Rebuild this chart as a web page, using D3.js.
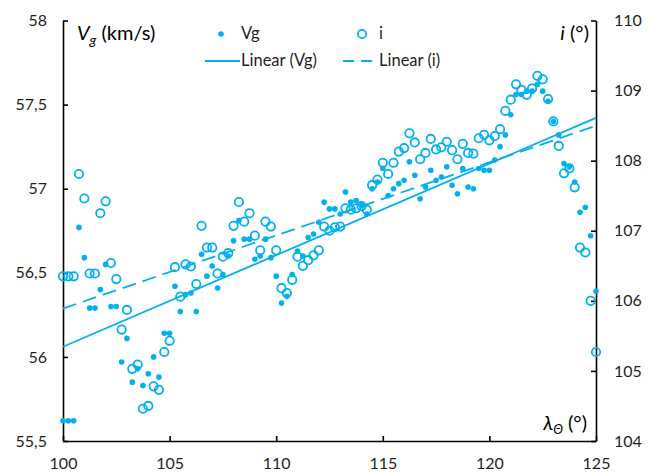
<!DOCTYPE html>
<html>
<head>
<meta charset="utf-8">
<script src="https://cdn.jsdelivr.net/npm/d3@7"></script>
<style>
  html, body { margin: 0; padding: 0; background: #fff; }
  svg { display: block; font-family: Lato, "Open Sans", sans-serif; }
</style>
</head>
<body>
<svg id="chart" width="650" height="474"></svg>
<script>
// Solar longitude (deg)
const lambda = [
  100, 100.25, 100.5, 100.75, 101, 101.25, 101.5, 101.75, 102, 102.25,
  102.5, 102.75, 103, 103.25, 103.5, 103.75, 104, 104.25, 104.5, 104.75,
  105, 105.25, 105.5, 105.75, 106, 106.25, 106.5, 106.75, 107, 107.25,
  107.5, 107.75, 108, 108.25, 108.5, 108.75, 109, 109.25, 109.5, 109.75,
  110, 110.25, 110.5, 110.75, 111, 111.25, 111.5, 111.75, 112, 112.25,
  112.5, 112.75, 113, 113.25, 113.5, 113.75, 114, 114.25, 114.5, 114.75,
  115, 115.25, 115.5, 115.75, 116, 116.25, 116.5, 116.75, 117, 117.25,
  117.5, 117.75, 118, 118.25, 118.5, 118.75, 119, 119.25, 119.5, 119.75,
  120, 120.25, 120.5, 120.75, 121, 121.25, 121.5, 121.75, 122, 122.25,
  122.5, 122.75, 123, 123.25, 123.5, 123.75, 124, 124.25, 124.5, 124.75,
  125
];

// Geocentric velocity Vg (km/s)
const vg = [
  55.62, 55.62, 55.62, 56.77, 56.59, 56.29, 56.29, 56.40, 56.55, 56.30,
  56.30, 55.97, 56.11, 55.85, 55.93, 55.83, 55.90, 56.00, 55.88, 56.14,
  56.14, 56.42, 56.27, 56.37, 56.38, 56.27, 56.61, 56.48, 56.54, 56.41,
  56.49, 56.60, 56.69, 56.81, 56.70, 56.70, 56.58, 56.60, 56.70, 56.59,
  56.48, 56.32, 56.36, 56.49, 56.63, 56.60, 56.71, 56.73, 56.80, 56.92,
  56.88, 56.88, 56.85, 56.98, 56.92, 56.93, 56.90, 56.85, 57.00, 57.04,
  57.12, 56.96, 57.00, 57.03, 57.05, 57.16, 57.08, 56.94, 57.01, 57.11,
  57.05, 57.07, 57.13, 57.02, 56.97, 57.12, 57.01, 57.00, 57.12, 57.11,
  57.11, 57.17, 57.25, 57.32, 57.44, 57.56, 57.56, 57.58, 57.58, 57.62,
  57.58, 57.52, 57.40, 57.32, 57.15, 57.13, 57.04, 56.86, 56.89, 56.72,
  56.39
];

// Inclination i (deg)
const incl = [
  106.35, 106.35, 106.35, 107.81, 107.46, 106.39, 106.39, 107.25, 107.42, 106.54,
  106.31, 105.59, 105.87, 105.03, 105.09, 104.46, 104.50, 104.78, 104.73, 105.27,
  105.43, 106.48, 106.06, 106.52, 106.49, 106.24, 107.07, 106.76, 106.76, 106.39,
  106.63, 106.68, 107.07, 107.41, 107.13, 107.25, 106.93, 106.72, 107.13, 107.06,
  106.72, 106.18, 106.11, 106.30, 106.63, 106.50, 106.58, 106.65, 106.72, 107.06,
  107.00, 107.05, 107.06, 107.32, 107.30, 107.32, 107.35, 107.30, 107.65, 107.73,
  107.97, 107.81, 107.97, 108.13, 108.18, 108.39, 108.26, 108.02, 108.11, 108.31,
  108.16, 108.19, 108.27, 108.15, 108.02, 108.24, 108.11, 108.10, 108.32, 108.37,
  108.29, 108.35, 108.45, 108.71, 108.87, 109.09, 109.01, 108.94, 109.03, 109.21,
  109.16, 108.88, 108.56, 108.21, 107.82, 107.89, 107.62, 106.76, 106.69, 106.00,
  105.27
];

const xTicks = [100, 105, 110, 115, 120, 125];
const vgTicks = [55.5, 56, 56.5, 57, 57.5, 58];
const iTicks = [104, 105, 106, 107, 108, 109, 110];

const blue = "#00B0F0";
const ink = "#000";
const labelInk = "#1f1f1f";

const svg = d3.select("#chart");
const plotLeft = 63, plotRight = 596, plotTop = 20.5, plotBottom = 441;

const x = d3.scaleLinear().domain([100, 125]).range([plotLeft, plotRight]);
const yV = d3.scaleLinear().domain([55.5, 58]).range([plotBottom, plotTop]);
const yI = d3.scaleLinear().domain([104, 110]).range([plotBottom, plotTop]);

const comma = d => String(d).replace(".", ",");

// Least-squares line
function fit(xs, ys) {
  const n = xs.length;
  const mx = d3.mean(xs), my = d3.mean(ys);
  let sxy = 0, sxx = 0;
  for (let k = 0; k < n; k++) {
    sxy += (xs[k] - mx) * (ys[k] - my);
    sxx += (xs[k] - mx) * (xs[k] - mx);
  }
  const b = sxy / sxx;
  return v => my + b * (v - mx);
}

// Axes
function styleAxis(g) {
  g.selectAll(".domain").attr("stroke", ink).attr("stroke-width", 1.6);
  g.selectAll(".tick line").attr("stroke", ink).attr("stroke-width", 1.6);
  g.selectAll(".tick text").attr("fill", labelInk).style("font-size", "16px")
    .style("font-family", "Lato, 'Open Sans', sans-serif");
}

svg.append("g")
  .attr("transform", `translate(${plotLeft},0)`)
  .call(d3.axisLeft(yV).tickValues(vgTicks).tickFormat(comma)
    .tickSizeInner(-5).tickSizeOuter(0).tickPadding(16))
  .call(styleAxis);

svg.append("g")
  .attr("transform", `translate(${plotRight},0)`)
  .call(d3.axisRight(yI).tickValues(iTicks).tickFormat(comma)
    .tickSizeInner(-5).tickSizeOuter(0).tickPadding(18))
  .call(styleAxis);

svg.append("g")
  .attr("transform", `translate(0,${plotBottom})`)
  .call(d3.axisBottom(x).tickValues(xTicks).tickFormat(comma)
    .tickSizeInner(-5).tickSizeOuter(0).tickPadding(17))
  .call(styleAxis);

// Markers
const pts = lambda.map((l, k) => ({ l, v: vg[k], i: incl[k] }));

svg.append("g").selectAll("circle")
  .data(pts).join("circle")
  .attr("cx", d => x(d.l)).attr("cy", d => yV(d.v))
  .attr("r", 2.8).attr("fill", blue);

svg.append("g").selectAll("circle")
  .data(pts).join("circle")
  .attr("cx", d => x(d.l)).attr("cy", d => yI(d.i))
  .attr("r", 4.2).attr("fill", "none")
  .attr("stroke", blue).attr("stroke-width", 1.8);

// Trend lines
const fV = fit(lambda, vg);
const fI = fit(lambda, incl);

svg.append("line")
  .attr("x1", x(100)).attr("y1", yV(fV(100)))
  .attr("x2", x(125)).attr("y2", yV(fV(125)))
  .attr("stroke", blue).attr("stroke-width", 1.8);

svg.append("line")
  .attr("x1", x(100)).attr("y1", yI(fI(100)))
  .attr("x2", x(125)).attr("y2", yI(fI(125)))
  .attr("stroke", blue).attr("stroke-width", 1.8)
  .attr("stroke-dasharray", "14,7");

// Axis titles
const t1 = svg.append("text").attr("x", 77).attr("y", 40)
  .attr("fill", ink).style("font-size", "20px");
t1.append("tspan").attr("font-style", "italic").text("V");
t1.append("tspan").attr("font-style", "italic").attr("dy", 5).style("font-size", "14px").text("g");
t1.append("tspan").attr("dy", -5).text(" (km/s)");

const t2 = svg.append("text").attr("x", 589).attr("y", 40)
  .attr("text-anchor", "end").attr("fill", ink).style("font-size", "20px");
t2.append("tspan").attr("font-style", "italic").text("i");
t2.append("tspan").text(" (°)");

const t3 = svg.append("text").attr("x", 587).attr("y", 430)
  .attr("text-anchor", "end").attr("fill", ink).style("font-size", "20px");
t3.append("tspan").attr("font-style", "italic").text("λ");
t3.append("tspan").attr("font-style", "italic").attr("dy", 4).style("font-size", "13px").text("Θ");
t3.append("tspan").attr("dy", -4).text(" (°)");

// Legend
const lg = svg.append("g").style("font-size", "16.5px").attr("fill", labelInk);
lg.append("circle").attr("cx", 221).attr("cy", 34).attr("r", 2.8).attr("fill", blue);
lg.append("text").attr("x", 241).attr("y", 39).text("Vg");
lg.append("circle").attr("cx", 362).attr("cy", 34).attr("r", 4.2)
  .attr("fill", "none").attr("stroke", blue).attr("stroke-width", 1.8);
lg.append("text").attr("x", 379).attr("y", 39).text("i");
lg.append("line").attr("x1", 205).attr("x2", 240).attr("y1", 61).attr("y2", 61)
  .attr("stroke", blue).attr("stroke-width", 1.8);
lg.append("text").attr("x", 241).attr("y", 66).text("Linear (Vg)");
lg.append("line").attr("x1", 343).attr("x2", 378).attr("y1", 61).attr("y2", 61)
  .attr("stroke", blue).attr("stroke-width", 1.8).attr("stroke-dasharray", "11,7");
lg.append("text").attr("x", 379).attr("y", 66).text("Linear (i)");
</script>
</body>
</html>
